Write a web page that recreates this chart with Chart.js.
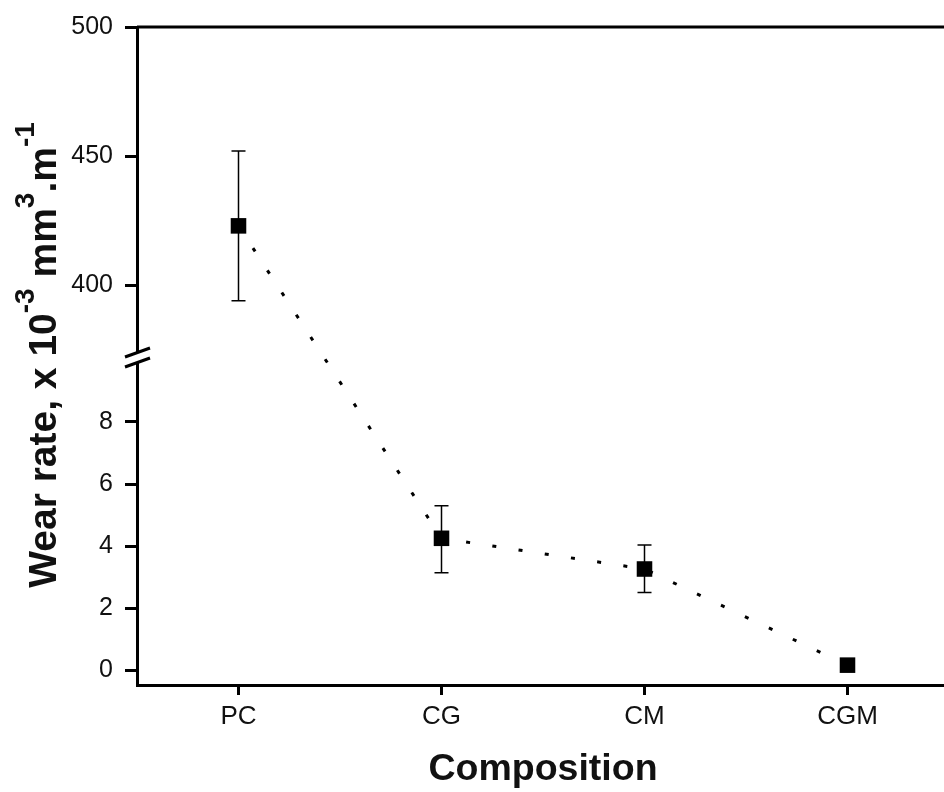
<!DOCTYPE html>
<html>
<head>
<meta charset="utf-8">
<script src="https://cdn.jsdelivr.net/npm/chart.js@4.4.1/dist/chart.umd.min.js"></script>
<style>
  html, body { margin: 0; padding: 0; background: #fff; overflow: hidden; }
  #wrap { width: 944px; height: 792px; overflow: hidden; }
</style>
</head>
<body>
<div id="wrap"><canvas id="wearChart" width="960" height="792"></canvas></div>
<script>
// data
const categories = ['PC', 'CG', 'CM', 'CGM'];
const wearRate   = [423, 4.25, 3.26, 0.16];
const errHigh    = [452, 5.3, 4.03, null];
const errLow     = [394, 3.14, 2.5, null];
const pointAxis  = ['yTop', 'yBot', 'yBot', 'yBot'];   // which half of the broken axis
const yTopTicks  = [400, 450, 500];
const yBotTicks  = [0, 2, 4, 6, 8];
const yTitleParts = [
    { text: 'Wear rate, x 10', sup: false },
    { text: '-3', sup: true },
    { text: ' mm', sup: false },
    { text: '3', sup: true },
    { text: '.m', sup: false },
    { text: '-1', sup: true }
];
const xTitle = 'Composition';

const FONT = '"Liberation Sans", Arial, sans-serif';

const topData = wearRate.map((v, i) => pointAxis[i] === 'yTop' ? v : null);
const botData = wearRate.map((v, i) => pointAxis[i] === 'yBot' ? v : null);

function px(chart, i, v) {
    return chart.scales[pointAxis[i]].getPixelForValue(v);
}

// dotted connector + error bars, drawn under the square markers
const extrasPlugin = {
    id: 'extras',
    beforeDatasetsDraw(chart) {
        const ctx = chart.ctx;
        const xs = chart.scales.x;
        ctx.save();
        // dotted line through all points (crosses the axis break)
        ctx.strokeStyle = '#000';
        ctx.lineWidth = 3;
        ctx.setLineDash([4, 22.5]);
        ctx.beginPath();
        wearRate.forEach((v, i) => {
            const x = xs.getPixelForValue(i), y = px(chart, i, v);
            if (i === 0) ctx.moveTo(x, y); else ctx.lineTo(x, y);
        });
        ctx.stroke();
        ctx.setLineDash([]);
        // error bars
        ctx.lineWidth = 1.5;
        wearRate.forEach((v, i) => {
            if (errHigh[i] == null) return;
            const x = xs.getPixelForValue(i);
            const yh = px(chart, i, errHigh[i]), yl = px(chart, i, errLow[i]);
            ctx.beginPath();
            ctx.moveTo(x, yh); ctx.lineTo(x, yl);
            ctx.moveTo(x - 7, yh); ctx.lineTo(x + 7, yh);
            ctx.moveTo(x - 7, yl); ctx.lineTo(x + 7, yl);
            ctx.stroke();
        });
        ctx.restore();
    },
    afterDraw(chart) {
        const ctx = chart.ctx;
        const area = chart.chartArea;
        ctx.save();
        // top frame line
        ctx.strokeStyle = '#000';
        ctx.lineWidth = 3;
        ctx.beginPath();
        ctx.moveTo(area.left, area.top);
        ctx.lineTo(area.right, area.top);
        ctx.stroke();
        // axis break marks
        const yb = chart.scales.yTop.bottom;
        const x0 = area.left - 12, x1 = area.left + 13;
        ctx.fillStyle = '#fff';
        ctx.beginPath();
        ctx.moveTo(x0, yb + 2); ctx.lineTo(x1, yb - 7);
        ctx.lineTo(x1, yb + 3); ctx.lineTo(x0, yb + 12);
        ctx.closePath();
        ctx.fill();
        ctx.lineWidth = 3;
        ctx.beginPath();
        ctx.moveTo(x0, yb + 2); ctx.lineTo(x1, yb - 7);
        ctx.moveTo(x0, yb + 12); ctx.lineTo(x1, yb + 3);
        ctx.stroke();

        // rotated y title with superscripts
        const big = 'bold 39px ' + FONT, small = 'bold 28px ' + FONT;
        ctx.translate(56, 355);
        ctx.rotate(-Math.PI / 2);
        let total = 0;
        yTitleParts.forEach(p => { ctx.font = p.sup ? small : big; total += ctx.measureText(p.text).width; });
        let x = -total / 2;
        ctx.fillStyle = '#111';
        ctx.textBaseline = 'alphabetic';
        yTitleParts.forEach(p => {
            ctx.font = p.sup ? small : big;
            ctx.fillText(p.text, x, p.sup ? -22 : 0);
            x += ctx.measureText(p.text).width;
        });
        ctx.restore();
    }
};

const yCommon = {
    type: 'linear',
    position: 'left',
    stack: 'y',
    border: { display: true, color: '#000', width: 3 },
    grid: { drawOnChartArea: false, drawTicks: true, tickLength: 12, tickWidth: 3, tickColor: '#000' },
    ticks: { color: '#111', padding: 12, font: { family: FONT, size: 25 } },
    afterFit: s => { s.width = 137; }
};

try {
    new Chart(document.getElementById('wearChart'), {
        type: 'line',
        data: {
            labels: categories,
            datasets: [
                { label: 'upper', data: topData, yAxisID: 'yTop', showLine: false,
                  pointStyle: 'rect', pointRadius: 11, backgroundColor: '#000', borderColor: '#000', borderWidth: 0 },
                { label: 'lower', data: botData, yAxisID: 'yBot', showLine: false,
                  pointStyle: 'rect', pointRadius: 11, backgroundColor: '#000', borderColor: '#000', borderWidth: 0 }
            ]
        },
        options: {
            responsive: false,
            animation: false,
            layout: { padding: { top: 27, right: 7, left: 0, bottom: 0 } },
            plugins: { legend: { display: false }, tooltip: { enabled: false } },
            scales: {
                x: {
                    type: 'category',
                    offset: true,
                    border: { display: true, color: '#000', width: 3 },
                    grid: { offset: false, drawOnChartArea: false, tickLength: 10, tickWidth: 3, tickColor: '#000' },
                    ticks: { color: '#111', padding: 6, font: { family: FONT, size: 26 } },
                    title: { display: true, text: xTitle, color: '#111', padding: { top: 0, bottom: 0 },
                             font: { family: FONT, size: 37.5, weight: 'bold' } },
                    afterFit: s => { s.height = 107; }
                },
                // lower half listed first: Chart.js stacks left axes in reverse order
                yBot: Object.assign({}, yCommon, {
                    stackWeight: 330, min: -0.48, max: 10.16,
                    afterBuildTicks: s => { s.ticks = yBotTicks.map(v => ({ value: v })); }
                }),
                yTop: Object.assign({}, yCommon, {
                    stackWeight: 328, min: 373, max: 500,
                    afterBuildTicks: s => { s.ticks = yTopTicks.map(v => ({ value: v })); }
                })
            }
        },
        plugins: [extrasPlugin]
    });
} catch (e) { console.error('Crash in wearChart', e); }
</script>
</body>
</html>
